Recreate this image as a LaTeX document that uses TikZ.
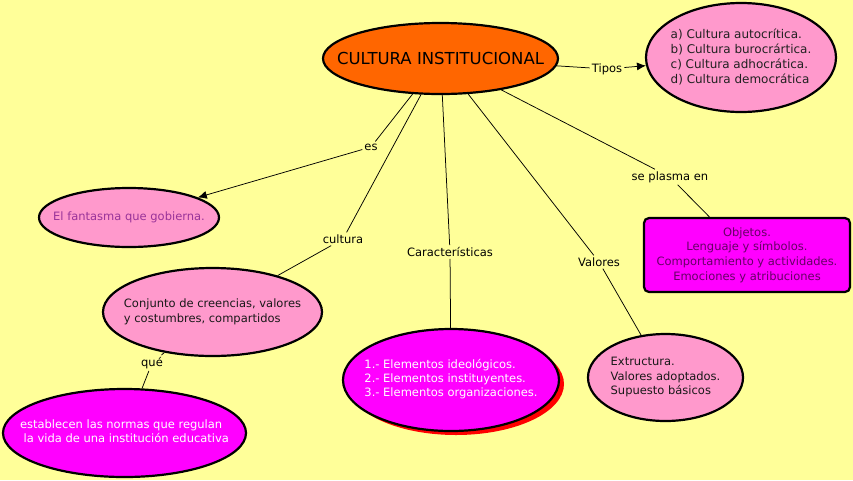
\documentclass[tikz,border=0pt]{standalone}
\usepackage{fontspec}
\setmainfont{DejaVu Sans}
\usetikzlibrary{arrows.meta, shapes.geometric, shadows}
\definecolor{bgyellow}{HTML}{FFFF99}
\definecolor{pinkfill}{HTML}{FF99CC}
\definecolor{magentafill}{HTML}{FF00FF}
\definecolor{orangefill}{HTML}{FF6600}
\definecolor{lightpurple}{HTML}{993399}
\definecolor{darkpurple}{HTML}{660066}
\newcommand{\maplines}[2]{\makebox[0pt]{\begin{tabular}{@{}#1@{}}#2\end{tabular}}}
\tikzstyle{orange_node} = [
    ellipse, 
    draw=black, 
    fill=orangefill, 
    line width=2.2pt, 
    inner sep=0pt, 
    minimum width=235pt, 
    minimum height=71pt, 
    font=\fontsize{16.5}{20}\selectfont
]
\tikzstyle{pink_node} = [
    ellipse, 
    draw=black, 
    fill=pinkfill, 
    line width=2.2pt, 
    inner sep=0pt, 
    font=\fontsize{11.5}{14.5}\selectfont
]
\tikzstyle{magenta_node} = [
    ellipse, 
    draw=black, 
    fill=magentafill, 
    line width=2.2pt, 
    inner sep=0pt, 
    text=white, 
    font=\fontsize{11.5}{14}\selectfont
]
\tikzstyle{box_node} = [
    rectangle, 
    rounded corners=5pt, 
    draw=black, 
    fill=magentafill, 
    line width=2.2pt, 
    text=darkpurple, 
    align=center, 
    minimum width=206pt, 
    minimum height=74pt, 
    font=\fontsize{11.5}{14.7}\selectfont
]
\tikzstyle{link_label} = [
    inner sep=2pt, % keeps the lines off the words
    font=\fontsize{11.5}{14}\selectfont
]
\tikzstyle{link} = [draw=black, line width=0.75pt]
\tikzstyle{arrow_link} = [link, -{Latex[length=9pt, width=8pt]}]
\begin{document}
\begin{tikzpicture}[x=1pt, y=-1pt]
\fill[bgyellow] (0,0) rectangle (853,480);
\useasboundingbox (0,0) rectangle (853,480);

\node [orange_node] (cultura) at (440.5,58.5) {\makebox[0pt]{CULTURA INSTITUCIONAL}};
\node [pink_node, minimum width=190pt, minimum height=109pt, text=black!87,
    font=\fontsize{12}{15}\selectfont] (tipos) at (741,57.5)
    {\maplines{l}{a) Cultura autocrítica.\\b) Cultura burocrártica.\\c) Cultura adhocrática.\\d) Cultura democrática}};
\node [pink_node, minimum width=180pt, minimum height=59pt, text=lightpurple] (fantasma) at (129,217.5)
    {\makebox[0pt]{El fantasma que gobierna.}};
\node [pink_node, minimum width=219pt, minimum height=88pt, text=black!90] (conjunto) at (212.5,312)
    {\maplines{l}{Conjunto de creencias, valores\\y costumbres, compartidos}};
\node [magenta_node, minimum width=243pt, minimum height=88pt] (normas) at (124.5,433)
    {\maplines{l}{establecen las normas que regulan\\\ la vida de una institución educativa}};
\node [magenta_node, minimum width=216pt, minimum height=102pt,
    drop shadow={shadow xshift=5pt, shadow yshift=-4pt, fill=red, opacity=1}] (elementos) at (451,380)
    {\maplines{l}{1.- Elementos ideológicos.\\2.- Elementos instituyentes.\\3.- Elementos organizaciones.}};
\node [pink_node, minimum width=155pt, minimum height=87pt, text=black!90] (extructura) at (665.5,377.5)
    {\maplines{l}{Extructura.\\Valores adoptados.\\Supuesto básicos}};
\node [box_node] (objetos) at (747,255)
    {Objetos.\\Lenguaje y símbolos.\\Comportamiento y actividades.\\Emociones y atribuciones};

\node [link_label] (tipos_label) at (607,69) {Tipos};
\node [link_label] (es_label) at (371,147) {es};
\node [link_label] (cultura_label) at (343,239) {cultura};
\node [link_label] (caract_label) at (450,252) {Características};
\node [link_label] (valores_label) at (599,262) {Valores};
\node [link_label] (plasma_label) at (670,177) {se plasma en};
\node [link_label] (que_label) at (152,363) {qué};

\draw [link] (cultura) -- (tipos_label);
\draw [arrow_link] (tipos_label) -- (tipos);
\draw [link] (cultura) -- (es_label);
\draw [arrow_link] (es_label) -- (fantasma);
\draw [link] (cultura) -- (cultura_label);
\draw [link] (cultura_label) -- (conjunto);
\draw [link] (conjunto) -- (que_label);
\draw [link] (que_label) -- (normas);
\draw [link] (cultura) -- (caract_label);
\draw [link] (caract_label) -- (elementos);
\draw [link] (cultura) -- (valores_label);
\draw [link] (valores_label) -- (extructura);
\draw [link] (cultura) -- (plasma_label);
\draw [link] (plasma_label) -- (objetos);
\end{tikzpicture}
\end{document}
